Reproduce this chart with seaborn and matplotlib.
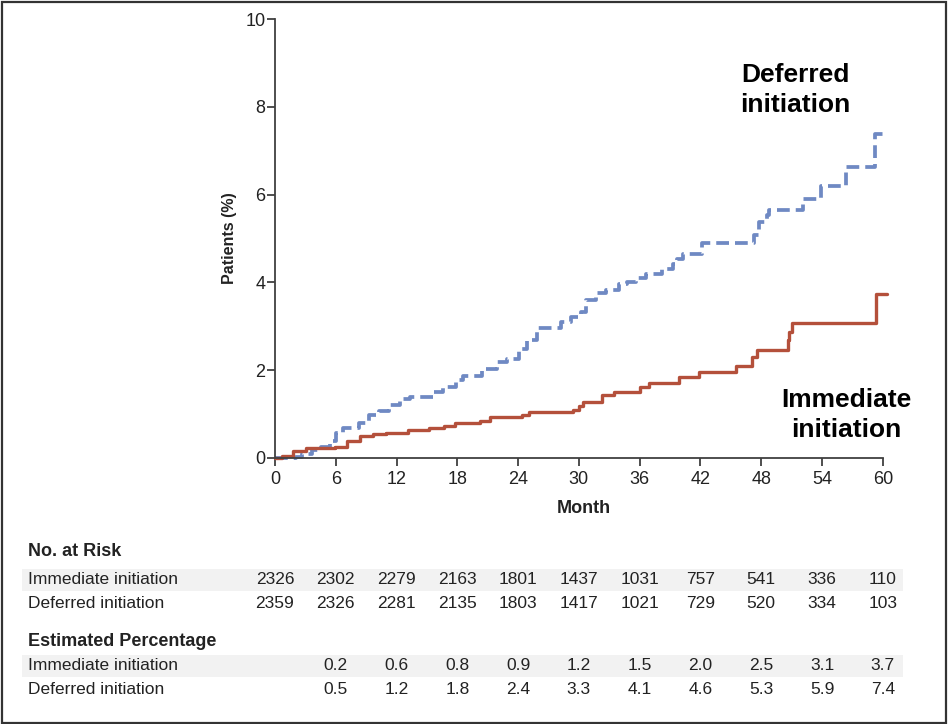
import matplotlib
matplotlib.use('Agg')
import numpy as np
import pandas as pd
import matplotlib.pyplot as plt
import matplotlib.transforms as mtransforms
from matplotlib import font_manager
from matplotlib.patches import Rectangle
import seaborn as sns

# ── Data ──────────────────────────────────────────────────────────────────────
imm_month = [0, 0.7, 1.8, 3.1, 5.9, 7.1, 8.4, 9.7, 11.0, 13.1, 15.2, 16.7, 17.8,
             20.2, 21.2, 24.4, 25.1, 29.4, 30.0, 30.4, 32.3, 33.5, 36.0, 36.9,
             39.9, 41.9, 45.5, 47.1, 47.6, 50.6, 50.7, 51.0, 59.3, 60.4]
imm_pct = [0, 0.05, 0.17, 0.22, 0.26, 0.38, 0.49, 0.54, 0.58, 0.64, 0.69, 0.74, 0.79,
           0.85, 0.93, 0.98, 1.04, 1.09, 1.19, 1.27, 1.43, 1.51, 1.62, 1.70,
           1.84, 1.95, 2.10, 2.29, 2.46, 2.69, 2.88, 3.08, 3.74, 3.74]

def_month = [0, 2.1, 2.7, 3.7, 4.5, 5.4, 6.0, 6.7, 8.3, 9.3, 10.3, 11.3, 12.3, 13.3,
             15.6, 16.6, 17.9, 18.6, 20.4, 21.9, 22.9, 24.1, 24.9, 25.9, 28.2, 29.2,
             30.2, 30.7, 31.7, 32.7, 34.0, 34.7, 35.6, 36.6, 38.2, 39.3, 39.7, 40.3,
             42.2, 47.3, 47.8, 48.6, 48.8, 52.1, 53.9, 56.4, 59.2, 60.4]
def_pct = [0, 0.03, 0.10, 0.19, 0.26, 0.38, 0.57, 0.68, 0.79, 0.98, 1.08, 1.21, 1.34, 1.40,
           1.51, 1.62, 1.77, 1.86, 2.02, 2.19, 2.26, 2.49, 2.68, 2.97, 3.09, 3.21,
           3.32, 3.60, 3.75, 3.83, 3.96, 4.02, 4.09, 4.19, 4.30, 4.43, 4.53, 4.65,
           4.90, 5.08, 5.38, 5.53, 5.66, 5.90, 6.20, 6.64, 7.37, 7.37]

risk_month = [0, 6, 12, 18, 24, 30, 36, 42, 48, 54, 60]
risk_imm = [2326, 2302, 2279, 2163, 1801, 1437, 1031, 757, 541, 336, 110]
risk_def = [2359, 2326, 2281, 2135, 1803, 1417, 1021, 729, 520, 334, 103]

est_month = [6, 12, 18, 24, 30, 36, 42, 48, 54, 60]
est_imm = [0.2, 0.6, 0.8, 0.9, 1.2, 1.5, 2.0, 2.5, 3.1, 3.7]
est_def = [0.5, 1.2, 1.8, 2.4, 3.3, 4.1, 4.6, 5.3, 5.9, 7.4]

# ── Style ─────────────────────────────────────────────────────────────────────
RED = '#b4503b'
BLUE = '#6f89c3'
INK = '#404040'
BAND = '#f2f2f2'
TXT = '#222222'

sns.set_theme(style='white')
installed = {f.name for f in font_manager.fontManager.ttflist}
NARROW = 'Liberation Sans Narrow' if 'Liberation Sans Narrow' in installed else 'Liberation Sans'
ARIAL = ['Liberation Sans', 'DejaVu Sans']
plt.rcParams['font.family'] = [NARROW, 'DejaVu Sans']

W, H = 949, 724
fx = lambda px: px / W
fy = lambda py: 1 - py / H

fig = plt.figure(figsize=(W / 100, H / 100), dpi=100)
fig.patch.set_facecolor('white')

# main axes: x=0 at px 275, 10.13 px per month; y=0 at py 458, y=10 at py 19
x0, ppm = 275, 10.13
ax = fig.add_axes([fx(x0), fy(458), 61 * ppm / W, (458 - 19) / H])
ax.set_facecolor('none')

imm = pd.DataFrame({'month': imm_month, 'pct': imm_pct})
dfr = pd.DataFrame({'month': def_month, 'pct': def_pct})

sns.lineplot(data=dfr, x='month', y='pct', ax=ax, color=BLUE, lw=2.7,
             drawstyle='steps-post', estimator=None, sort=False)
sns.lineplot(data=imm, x='month', y='pct', ax=ax, color=RED, lw=2.4,
             drawstyle='steps-post', estimator=None, sort=False)
ax.lines[0].set_dashes((3.4, 1.6))
for ln in ax.lines:
    ln.set_clip_on(False)

ax.set_xlim(0, 61)
ax.set_ylim(0, 10)
ax.set_xticks(range(0, 61, 6))
ax.set_yticks(range(0, 11, 2))
for s in ['top', 'right']:
    ax.spines[s].set_visible(False)
for s in ['left', 'bottom']:
    ax.spines[s].set_color(INK)
    ax.spines[s].set_linewidth(1.3)
ax.spines['bottom'].set_bounds(0, 60)
ax.tick_params(axis='both', direction='out', length=6, width=1.3, color=INK,
               labelsize=13, labelcolor=TXT, left=True, bottom=True)
ax.tick_params(axis='y', pad=1)
ax.tick_params(axis='x', pad=3)

ax.set_xlabel('Month', fontsize=13, fontweight='bold', color=TXT, labelpad=9)
ax.set_ylabel('Patients (%)', fontsize=11.5, fontweight='bold', color=TXT,
              family=ARIAL, labelpad=6)

# curve labels
ax.text(51.4, 8.38, 'Deferred\ninitiation', ha='center', va='center', fontsize=19,
        fontweight='bold', family=ARIAL, color='black', linespacing=1.3)
ax.text(56.4, 0.98, 'Immediate\ninitiation', ha='center', va='center', fontsize=19,
        fontweight='bold', family=ARIAL, color='black', linespacing=1.35)

# ── Risk table ────────────────────────────────────────────────────────────────
trans = mtransforms.blended_transform_factory(ax.transData, fig.transFigure)
lab_x = fx(28)

def band(py):
    fig.patches.append(Rectangle((fx(22), fy(py + 11)), fx(903) - fx(22), 22 / H,
                                 transform=fig.transFigure, facecolor=BAND,
                                 edgecolor='none', zorder=0))

def row(py, label, months, values):
    fig.text(lab_x, fy(py), label, fontsize=12.5, va='center', ha='left', color=TXT)
    for m, v in zip(months, values):
        fig.text(m, fy(py), v, transform=trans, fontsize=12.5, va='center',
                 ha='center', color=TXT)

band(580)
band(666)
fig.text(lab_x, fy(551), 'No. at Risk', fontsize=13, fontweight='bold', va='center',
         color=TXT)
row(580, 'Immediate initiation', risk_month, [str(v) for v in risk_imm])
row(604, 'Deferred initiation', risk_month, [str(v) for v in risk_def])
fig.text(lab_x, fy(641), 'Estimated Percentage', fontsize=13, fontweight='bold',
         va='center', color=TXT)
row(666, 'Immediate initiation', est_month, [f'{v:.1f}' for v in est_imm])
row(690, 'Deferred initiation', est_month, [f'{v:.1f}' for v in est_def])

# figure frame
fig.patches.append(Rectangle((fx(1.5), fy(722.5)), fx(945.5) - fx(1.5), 721 / H,
                             transform=fig.transFigure, facecolor='none',
                             edgecolor='#333333', linewidth=1.6, zorder=5))

fig.savefig('out.png', dpi=100)
